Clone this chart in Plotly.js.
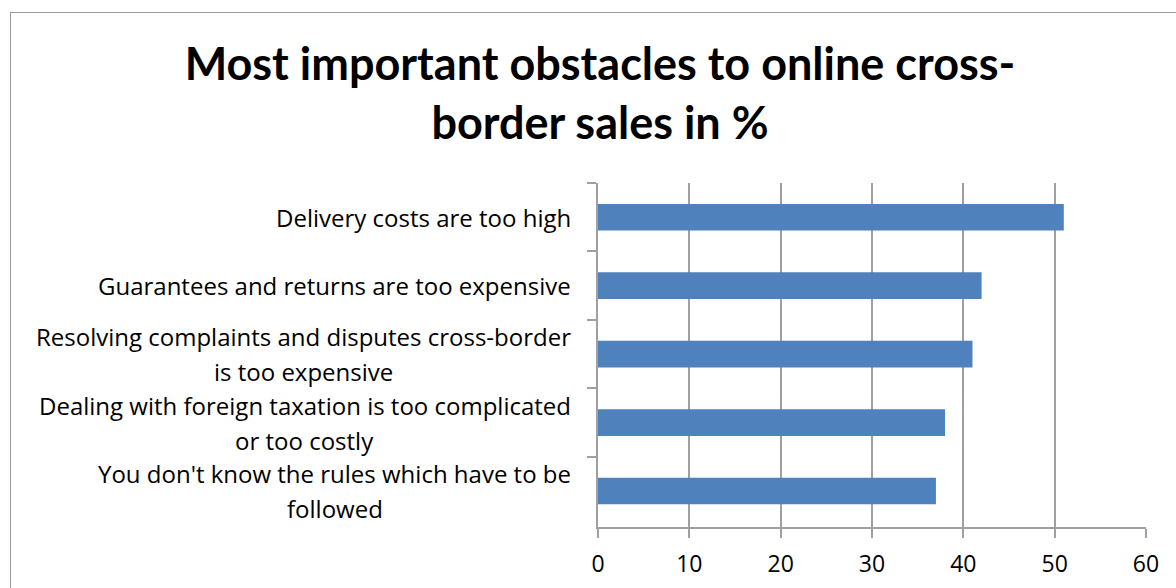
<!DOCTYPE html>
<html>
<head>
<meta charset="utf-8">
<script src="https://cdn.plot.ly/plotly-3.0.1.min.js"></script>
<style>
html,body{margin:0;padding:0;background:#fff;overflow:hidden;}
#frame{position:absolute;left:10px;top:12px;width:1200px;height:620px;border:1.5px solid #9a9a9a;box-sizing:border-box;pointer-events:none;z-index:5;}
#chart{position:absolute;left:0;top:0;width:1176px;height:588px;}
</style>
</head>
<body>
<div id="chart"></div>
<div id="frame"></div>
<script>
var categories = [
  "Delivery costs are too high",
  "Guarantees and returns are too expensive",
  "Resolving complaints and disputes cross-border<br>is too expensive",
  "Dealing with foreign taxation is too complicated<br>or too costly",
  "You don't know the rules which have to be<br>followed"
];
var values = [51, 42, 41, 38, 37];
var xTicks = [0, 10, 20, 30, 40, 50, 60];
var titleText = "Most important obstacles to online cross-<br>border sales in %";

var TITLE_FONT = "Lato, 'Open Sans', sans-serif";
var FONT = "'Open Sans', Lato, sans-serif";
var labelSize = 24;
var lineGap = 35;
var labelGap = 27;

var ctx = document.createElement("canvas").getContext("2d");
ctx.font = labelSize + "px 'Open Sans'";

var annotations = [];
categories.forEach(function(c){
  var lines = c.split("<br>");
  var n = lines.length;
  var blockW = Math.max.apply(null, lines.map(function(t){ return ctx.measureText(t).width; }));
  lines.forEach(function(t, i){
    annotations.push({
      xref: "paper", yref: "y", x: 0, y: c,
      text: t, showarrow: false, xanchor: "center", yanchor: "middle",
      xshift: -labelGap - blockW / 2, yshift: ((n - 1) / 2 - i) * lineGap,
      font: {family: FONT, size: labelSize, color: "#000"}
    });
  });
});

var trace = {
  type: "bar", orientation: "h",
  x: values, y: categories,
  marker: {color: "#4F81BD"},
  hoverinfo: "x+y"
};

var layout = {
  width: 1176, height: 588,
  margin: {l: 598, r: 30, t: 183, b: 61},
  paper_bgcolor: "rgba(0,0,0,0)", plot_bgcolor: "#fff",
  bargap: 0.61,
  showlegend: false,
  title: {
    text: titleText, xref: "container", x: 600/1176, xanchor: "center",
    yref: "container", y: 1 - 80/588, yanchor: "middle",
    font: {family: TITLE_FONT, size: 45, color: "#000", weight: "bold"}
  },
  xaxis: {
    range: [0, 60], tickvals: xTicks, ticktext: xTicks.map(String),
    showgrid: true, gridcolor: "#A0A0A0", gridwidth: 2,
    showline: true, linecolor: "#A0A0A0", linewidth: 2,
    ticks: "outside", ticklen: 9, tickcolor: "#A0A0A0", tickwidth: 2,
    ticklabelstandoff: 6,
    tickfont: {family: FONT, size: 23, color: "#000"},
    zeroline: false, fixedrange: true
  },
  yaxis: {
    type: "category", autorange: "reversed",
    showticklabels: false,
    showline: true, linecolor: "#A0A0A0", linewidth: 2,
    ticks: "outside", ticklen: 9, tickcolor: "#A0A0A0", tickwidth: 2,
    tickson: "boundaries", showgrid: false, zeroline: false, fixedrange: true
  },
  annotations: annotations
};

Plotly.newPlot("chart", [trace], layout, {displayModeBar: false, staticPlot: true});
</script>
</body>
</html>
